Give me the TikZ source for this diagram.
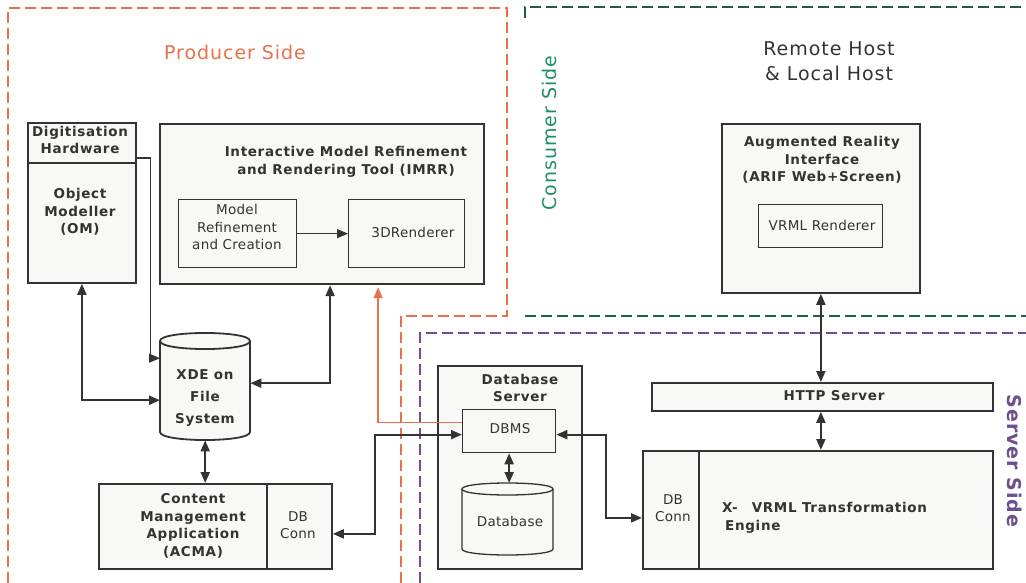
\documentclass[tikz,border=0pt]{standalone}
\usepackage{fontspec}
\setmainfont{DejaVu Sans}
\newfontfamily\rfnt[LetterSpace=2]{DejaVu Sans}
\newfontfamily\bfnt[LetterSpace=5]{DejaVu Sans}
\newfontfamily\lfnt[LetterSpace=5]{DejaVu Sans}
\usetikzlibrary{arrows.meta,calc}
\definecolor{dk}{HTML}{333333}
\definecolor{bg}{HTML}{F8F8F6}
\definecolor{orng}{HTML}{E8714A}
\definecolor{grl}{HTML}{1E5E46}
\definecolor{grt}{HTML}{1C9060}
\definecolor{prp}{HTML}{6C4F8C}
\tikzset{
  box/.style={draw=dk, fill=bg, line width=1.8pt, inner sep=0pt, anchor=north west},
  ibox/.style={draw=dk, fill=bg, line width=1.3pt, inner sep=0pt, anchor=north west},
  ghost/.style={inner sep=0pt, anchor=north west},
  bt/.style={font=\bfnt\bfseries\fontsize{13.5}{17.5}\selectfont, text=dk, align=center, inner sep=0pt},
  rt/.style={font=\rfnt\fontsize{13.5}{17.5}\selectfont, text=dk, align=center, inner sep=0pt},
  lbl/.style={font=\lfnt\fontsize{19}{25}\selectfont, align=center, inner sep=0pt},
  arr/.style={draw=dk, line width=2pt, -{Triangle[length=11pt,width=9pt]}},
  darr/.style={draw=dk, line width=2pt, {Triangle[length=11pt,width=9pt]}-{Triangle[length=11pt,width=9pt]}},
  tarr/.style={draw=dk, line width=1.3pt, -{Triangle[length=11pt,width=9pt]}},
  oarr/.style={draw=orng, line width=1.3pt, -{Triangle[length=11pt,width=9pt]}},
  region/.style={line width=2.4pt, dash pattern=on 11pt off 5pt},
  cyl/.style={draw=dk, fill=bg, line width=1.8pt},
}
\begin{document}
\begin{tikzpicture}[x=1pt, y=-1pt]
\useasboundingbox (0,0) rectangle (1026,583);

% regions
\draw[region, orng] (8,583) -- (8,8) -- (507,8) -- (507,316) -- (401,316) -- (401,583);
\draw[region, grl] (525,18) -- (525,7) -- (1030,7);
\draw[region, grl] (525,316) -- (1030,316);
\draw[region, prp] (420,583) -- (420,333) -- (1030,333);

\node[lbl, text=orng] (lprod) at (235,52) {Producer Side};
\node[lbl, text=grt, rotate=90] (lcons) at (549,133) {Consumer Side};
\node[lbl, text=prp, rotate=-90, font=\lfnt\fontsize{19}{25}\selectfont\bfseries] (lserv) at (1015,461) {Server Side};
\node[lbl, text=dk] (lhost) at (829,61) {Remote Host\\\& Local Host};

% producer side boxes
\node[box, minimum width=108pt, minimum height=160pt] (om) at (27,122) {};
\draw[dk, line width=1.8pt] ($(om.north west)+(0,41)$) -- ($(om.north east)+(0,41)$);
\node[bt] (tdig) at (80,140) {Digitisation\\Hardware};
\node[bt] (tom) at (80,212) {Object\\Modeller\\(OM)};

\node[box, line width=2.2pt, minimum width=324pt, minimum height=160pt] (imrr) at (159,123) {};
\node[bt] (timrr) at (346,162) {Interactive Model Refinement\\and Rendering Tool (IMRR)};
\node[ibox, minimum width=118pt, minimum height=68pt] (mrc) at (178,199) {};
\node[rt] (tmrc) at (237,227) {Model\\Refinement\\and Creation};
\node[ibox, minimum width=116pt, minimum height=68pt] (rend) at (348,199) {};
\node[rt] (trend) at (413,232) {3DRenderer};

% XDE cylinder
\node[ghost, minimum width=90pt, minimum height=107pt] (xde) at (160,333) {};
\draw[cyl] (160,341) -- (160,432) .. controls (160,442.7) and (250,442.7) .. (250,432)
  -- (250,341) .. controls (250,330.3) and (160,330.3) .. (160,341) -- cycle;
\draw[cyl, fill=none] (160,341) .. controls (160,351.7) and (250,351.7) .. (250,341);
\node[bt, font=\bfnt\bfseries\fontsize{13.5}{22}\selectfont] (txde) at (205,398) {XDE on\\File\\System};

% ACMA
\node[box, minimum width=233pt, minimum height=85pt] (acma) at (98,483) {};
\draw[dk, line width=1.8pt] ($(acma.north east)+(-66,0)$) -- ($(acma.south east)+(-66,0)$);
\node[bt] (tacma) at (193,526) {Content\\Management\\Application\\(ACMA)};
\node[rt] (tdbc1) at (298,525) {DB\\Conn};

% server side
\node[box, minimum width=144pt, minimum height=203pt] (dbs) at (437,365) {};
\node[bt] (tdbs) at (520,388) {Database\\Server};
\node[ibox, minimum width=93pt, minimum height=43pt] (dbms) at (462,409) {};
\node[rt] (tdbms) at (510,429) {DBMS};
\node[ghost, minimum width=91pt, minimum height=72pt] (dbc) at (462,483) {};
\draw[cyl, line width=1.3pt] (462,489) -- (462,549) .. controls (462,557) and (553,557) .. (553,549)
  -- (553,489) .. controls (553,481) and (462,481) .. (462,489) -- cycle;
\draw[cyl, line width=1.3pt, fill=none] (462,489) .. controls (462,497) and (553,497) .. (553,489);
\node[rt] (tdbc) at (510,521) {Database};

\node[box, minimum width=341pt, minimum height=28pt] (http) at (651,382) {};
\node[bt] (thttp) at (834,396) {HTTP Server};
\node[box, minimum width=350pt, minimum height=118pt] (xvrml) at (642,450) {};
\draw[dk, line width=1.8pt] ($(xvrml.north west)+(57,0)$) -- ($(xvrml.south west)+(57,0)$);
\node[rt] (tdbc2) at (673,508) {DB\\Conn};
\node[bt, align=left, anchor=west] (txv) at (722,518) {X-\hspace{14pt}VRML Transformation\\\hspace{3pt}Engine};

% consumer side
\node[box, minimum width=198pt, minimum height=169pt] (arif) at (721,123) {};
\node[bt] (tarif) at (822,160) {Augmented Reality\\Interface\\(ARIF Web+Screen)};
\node[ibox, minimum width=124pt, minimum height=43pt] (vrml) at (758,204) {};
\node[rt] (tvrml) at (822,225) {VRML Renderer};

% connectors
\draw[tarr] (mrc.east) -- (rend.west);
\draw[tarr] ($(om.north east)+(0,36)$) -- ++(14,0) |- ($(xde.west)+(0,-28.5)$);
\draw[darr] (om.south) |- ($(xde.west)+(0,13.5)$);
\draw[darr] ($(imrr.south)+(8,0)$) |- ($(xde.east)+(0,-3.5)$);
\draw[darr] (xde.south) -- (xde.south |- acma.north);
\draw[darr] ($(acma.east)+(0,7.5)$) -- ++(42,0) |- ($(dbms.west)+(0,3.5)$);
\draw[oarr] ($(dbms.west)+(0,-8.5)$) -| ($(imrr.south)+(56,2)$);
\draw[darr] (dbms.south) -- (dbms.south |- dbc.north);
\draw[darr] ($(dbms.east)+(0,3.5)$) -- ++(50,0) |- ($(xvrml.west)+(0,8)$);
\draw[darr] (http.south -| arif.south) -- (xvrml.north -| arif.south);
\draw[darr] (arif.south) -- (arif.south |- http.north);
\end{tikzpicture}
\end{document}
